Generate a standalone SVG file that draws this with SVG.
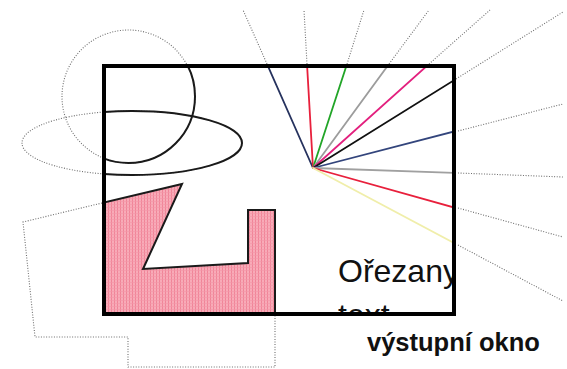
<svg xmlns="http://www.w3.org/2000/svg" width="567" height="369" viewBox="0 0 567 369">
  <style>
    .dot { fill: none; stroke: #6f6f6f; stroke-width: 1.1; stroke-dasharray: 1 1.6; }
    .solid { fill: none; stroke: #1a1a1a; stroke-width: 2; }
    .ray { stroke-width: 1.8; stroke-linecap: round; }
    .label { font-family: "Liberation Sans", Arial, sans-serif; fill: #111; }
  </style>
  <defs>
    <clipPath id="win">
      <rect x="104" y="66" width="350" height="248"/>
    </clipPath>
    <pattern id="hatch" width="3" height="3" patternUnits="userSpaceOnUse">
      <rect width="3" height="3" fill="#f8abb8"/>
      <rect width="1" height="3" fill="#f08598"/>
      <rect width="3" height="1" fill="#f496a6" opacity="0.6"/>
    </pattern>
  </defs>

  <rect width="567" height="369" fill="#fff"/>

  <!-- parts of the shapes lying outside the window (dotted) -->
  <g id="outside">
    <circle class="dot" cx="128.5" cy="96.5" r="66.5"/>
    <ellipse class="dot" cx="132" cy="143" rx="110" ry="32"/>
    <polyline class="dot" points="102,203 23,222 35,337 128,337 128,367 275,367 275,316"/>
    <line class="dot" x1="267" y1="64" x2="243" y2="10"/>
    <line class="dot" x1="307" y1="64" x2="304" y2="10"/>
    <line class="dot" x1="347" y1="64" x2="364" y2="10"/>
    <line class="dot" x1="389" y1="64" x2="429" y2="10"/>
    <line class="dot" x1="429" y1="64" x2="490" y2="10"/>
    <line class="dot" x1="456" y1="79" x2="563" y2="12"/>
    <line class="dot" x1="458" y1="131" x2="563" y2="104"/>
    <line class="dot" x1="458" y1="173" x2="563" y2="177"/>
    <line class="dot" x1="458" y1="208" x2="563" y2="237"/>
    <line class="dot" x1="458" y1="245" x2="563" y2="301"/>
  </g>

  <!-- clipped contents of the window -->
  <g id="clipped" clip-path="url(#win)">
    <polygon id="polygon" points="102,203 182,184 143,269 248,263 248,210 275,210 275,315 102,315" fill="url(#hatch)" stroke="#1a1a1a" stroke-width="2" stroke-linejoin="miter"/>
    <circle class="solid" cx="128.5" cy="96.5" r="66.5"/>
    <ellipse class="solid" cx="132" cy="143" rx="110" ry="32"/>
    <g id="rays">
      <line class="ray" x1="313" y1="168" x2="267" y2="64" stroke="#26325e"/>
      <line class="ray" x1="313" y1="168" x2="307" y2="64" stroke="#e8203c"/>
      <line class="ray" x1="313" y1="168" x2="347" y2="64" stroke="#22a528"/>
      <line class="ray" x1="313" y1="168" x2="389" y2="64" stroke="#9c9c9c"/>
      <line class="ray" x1="313" y1="168" x2="429" y2="64" stroke="#e3207e"/>
      <line class="ray" x1="313" y1="168" x2="456" y2="79" stroke="#111111"/>
      <line class="ray" x1="313" y1="168" x2="456" y2="131" stroke="#33457c"/>
      <line class="ray" x1="313" y1="168" x2="456" y2="173" stroke="#a0a0a0"/>
      <line class="ray" x1="313" y1="168" x2="456" y2="208" stroke="#e8203c"/>
      <line class="ray" x1="313" y1="168" x2="456" y2="244" stroke="#f0eeaa"/>
    </g>
    <text class="label" font-size="32" x="338" y="282">Ořezany</text>
    <text class="label" font-size="32" x="338" y="326">text</text>
  </g>

  <!-- output window frame -->
  <rect id="window" x="104" y="66" width="350" height="248" fill="none" stroke="#000" stroke-width="4"/>

  <text id="caption" class="label" font-size="25.5" font-weight="bold" x="367" y="351">výstupní okno</text>
</svg>
